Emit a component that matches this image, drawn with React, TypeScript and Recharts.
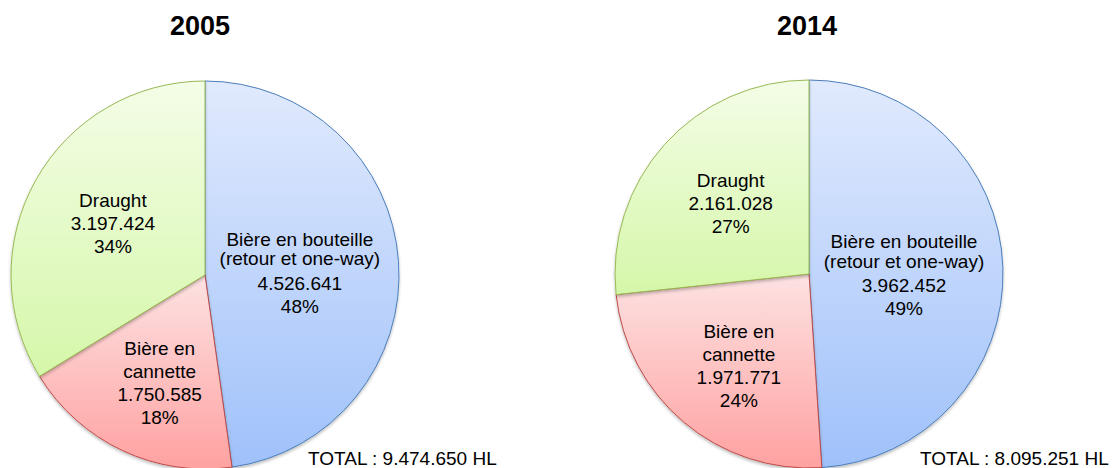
import React from "react";
import { PieChart, Pie, Cell } from "recharts";

const categories = ["Bière en bouteille (retour et one-way)", "Bière en cannette", "Draught"];
const categoryLines = [["Bière en bouteille", "(retour et one-way)"], ["Bière en", "cannette"], ["Draught"]];
const years = ["2005", "2014"];
const values2005 = [4526641, 1750585, 3197424];
const values2014 = [3962452, 1971771, 2161028];

const fmt = (n: number) => String(n).replace(/\B(?=(\d{3})+(?!\d))/g, ".");

const build = (values: number[]) => {
  const total = values.reduce((a, b) => a + b, 0);
  return values.map((v, i) => ({
    name: categories[i],
    lines: categoryLines[i],
    value: v,
    pct: Math.round((v / total) * 100) + "%",
  }));
};

const data2005 = build(values2005);
const data2014 = build(values2014);
const total2005 = values2005.reduce((a, b) => a + b, 0);
const total2014 = values2014.reduce((a, b) => a + b, 0);

const FONT = "'Liberation Sans', Arial, sans-serif";
const RAD = Math.PI / 180;
// label placement tweaks (radius fraction, pixel nudges) per slice
const labelRadius = [0.49, 0.59, 0.55];
const labelNudge = [[0, 4.5], [3.5, 4.5], [1, 1]];
const lineGaps = [[19.5, 24.5, 23], [23, 23, 23.5], [23, 23]];
const strokes = ["#4a7ebb", "#be4b48", "#98b954"];
const fills = ["url(#gBlue)", "url(#gRed)", "url(#gGreen)"];

const renderLabel = (props: any) => {
  const { cx, cy, midAngle, outerRadius, index, payload } = props;
  const r = outerRadius * labelRadius[index];
  const x = cx + r * Math.cos(-midAngle * RAD) + labelNudge[index][0];
  const y = cy + r * Math.sin(-midAngle * RAD) + labelNudge[index][1];
  const lines = [...payload.lines, fmt(payload.value), payload.pct];
  const gaps = lineGaps[index];
  const span = gaps.reduce((a: number, b: number) => a + b, 0);
  let off = -span / 2;
  const ys: number[] = [];
  lines.forEach((_: string, i: number) => {
    ys.push(y + off);
    if (i < gaps.length) off += gaps[i];
  });
  return (
    <text key={`l-${index}`} fontFamily={FONT} fontSize={19} fill="#000" textAnchor="middle">
      {lines.map((t: string, i: number) => (
        <tspan key={i} x={x} y={ys[i]} dominantBaseline="central">
          {t}
        </tspan>
      ))}
    </text>
  );
};

export default function App() {
  return (
    <div style={{ position: "absolute", left: 0, top: 0, width: 1115, height: 468, background: "#fff" }}>
      <PieChart width={1115} height={468} margin={{ top: 0, right: 0, bottom: 0, left: 0 }}>
        <defs>
          <linearGradient id="gBlue" x1="0" y1="0" x2="0" y2="1">
            <stop offset="0%" stopColor="#e1eafd" />
            <stop offset="100%" stopColor="#9fc1fa" />
          </linearGradient>
          <linearGradient id="gRed" x1="0" y1="0" x2="0" y2="1">
            <stop offset="0%" stopColor="#fde2e2" />
            <stop offset="100%" stopColor="#ffa1a1" />
          </linearGradient>
          <linearGradient id="gGreen" x1="0" y1="0" x2="0" y2="1">
            <stop offset="0%" stopColor="#f4fde7" />
            <stop offset="100%" stopColor="#d5f7a9" />
          </linearGradient>
          <filter id="pieShadow" x="-10%" y="-10%" width="120%" height="120%">
            <feDropShadow dx="0" dy="2" stdDeviation="1.5" floodColor="#000" floodOpacity="0.25" />
          </filter>
        </defs>
        <Pie
          data={data2005}
          dataKey="value"
          cx={205}
          cy={275}
          outerRadius={194}
          startAngle={90}
          endAngle={-270}
          label={renderLabel}
          labelLine={false}
          isAnimationActive={false}
          style={{ filter: "url(#pieShadow)" }}
        >
          {data2005.map((d, i) => (
            <Cell key={d.name} fill={fills[i]} stroke={strokes[i]} strokeWidth={1} />
          ))}
        </Pie>
        <Pie
          data={data2014}
          dataKey="value"
          cx={809}
          cy={274}
          outerRadius={194}
          startAngle={90}
          endAngle={-270}
          label={renderLabel}
          labelLine={false}
          isAnimationActive={false}
          style={{ filter: "url(#pieShadow)" }}
        >
          {data2014.map((d, i) => (
            <Cell key={d.name} fill={fills[i]} stroke={strokes[i]} strokeWidth={1} />
          ))}
        </Pie>
        <text x={200} y={35} textAnchor="middle" fontFamily={FONT} fontWeight="bold" fontSize={27} fill="#000">
          {years[0]}
        </text>
        <text x={807} y={35} textAnchor="middle" fontFamily={FONT} fontWeight="bold" fontSize={27} fill="#000">
          {years[1]}
        </text>
        <text x={308} y={465} fontFamily={FONT} fontSize={19} fill="#000">
          {`TOTAL : ${fmt(total2005)} HL`}
        </text>
        <text x={920} y={465} fontFamily={FONT} fontSize={19} fill="#000">
          {`TOTAL : ${fmt(total2014)} HL`}
        </text>
      </PieChart>
    </div>
  );
}
